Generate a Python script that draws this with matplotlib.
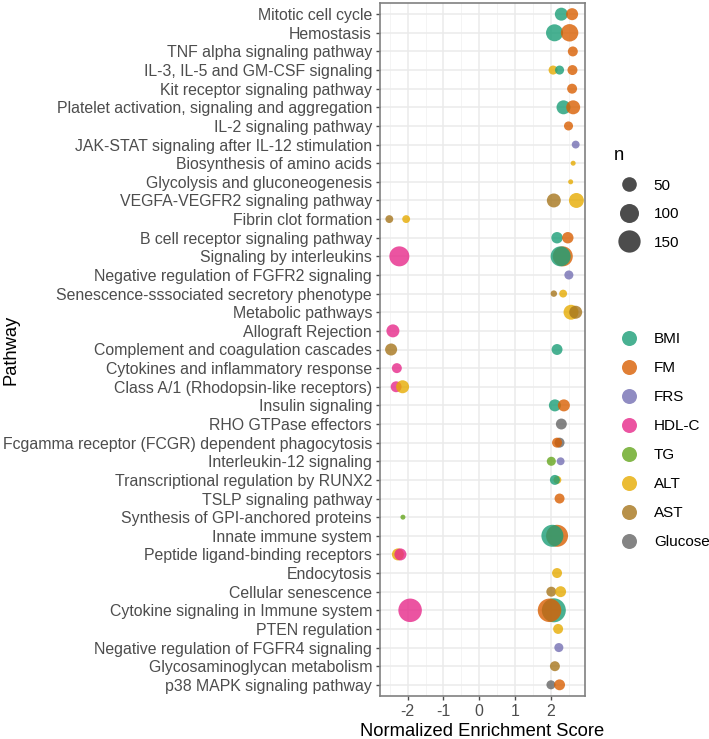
import numpy as np
import matplotlib
matplotlib.use("Agg")
import matplotlib.pyplot as plt
from matplotlib.lines import Line2D

plt.rcParams['font.family'] = ['Liberation Sans', 'DejaVu Sans']
plt.rcParams['axes.unicode_minus'] = False

pathways = [
    "Mitotic cell cycle",
    "Hemostasis",
    "TNF alpha signaling pathway",
    "IL-3, IL-5 and GM-CSF signaling",
    "Kit receptor signaling pathway",
    "Platelet activation, signaling and aggregation",
    "IL-2 signaling pathway",
    "JAK-STAT signaling after IL-12 stimulation",
    "Biosynthesis of amino acids",
    "Glycolysis and gluconeogenesis",
    "VEGFA-VEGFR2 signaling pathway",
    "Fibrin clot formation",
    "B cell receptor signaling pathway",
    "Signaling by interleukins",
    "Negative regulation of FGFR2 signaling",
    "Senescence-sssociated secretory phenotype",
    "Metabolic pathways",
    "Allograft Rejection",
    "Complement and coagulation cascades",
    "Cytokines and inflammatory response",
    "Class A/1 (Rhodopsin-like receptors)",
    "Insulin signaling",
    "RHO GTPase effectors",
    "Fcgamma receptor (FCGR) dependent phagocytosis",
    "Interleukin-12 signaling",
    "Transcriptional regulation by RUNX2",
    "TSLP signaling pathway",
    "Synthesis of GPI-anchored proteins",
    "Innate immune system",
    "Peptide ligand-binding receptors",
    "Endocytosis",
    "Cellular senescence",
    "Cytokine signaling in Immune system",
    "PTEN regulation",
    "Negative regulation of FGFR4 signaling",
    "Glycosaminoglycan metabolism",
    "p38 MAPK signaling pathway",
]

groups = ["BMI", "FM", "FRS", "HDL-C", "TG", "ALT", "AST", "Glucose"]
group_colors = ["#1B9E77", "#D95F02", "#7570B3", "#E7298A",
                "#66A61E", "#E6AB02", "#A6761D", "#666666"]

# one entry per point, in drawing order (later ones on top)
pt_path = [0, 0, 1, 1, 2, 3, 3, 3, 4, 5, 5, 6, 7, 8, 9, 10, 10, 11, 11,
           12, 12, 13, 13, 13, 14, 15, 15, 16, 16, 17, 18, 18, 19, 20, 20,
           21, 21, 22, 23, 23, 24, 24, 25, 25, 26, 27, 28, 28, 29, 29, 30,
           31, 31, 32, 32, 32, 33, 34, 35, 36, 36]
pt_group = ["BMI", "FM", "BMI", "FM", "FM", "ALT", "BMI", "FM", "FM", "BMI", "FM",
            "FM", "FRS", "ALT", "ALT", "AST", "ALT", "AST", "ALT",
            "BMI", "FM", "HDL-C", "FM", "BMI", "FRS", "AST", "ALT", "ALT", "AST",
            "HDL-C", "AST", "BMI", "HDL-C", "HDL-C", "ALT",
            "BMI", "FM", "Glucose", "Glucose", "FM", "TG", "FRS", "ALT", "BMI",
            "FM", "TG", "FM", "BMI", "ALT", "HDL-C", "ALT",
            "AST", "ALT", "HDL-C", "BMI", "FM", "ALT", "FRS", "AST", "Glucose", "FM"]
pt_nes = [2.29, 2.59, 2.10, 2.52, 2.61, 2.06, 2.24, 2.60, 2.59, 2.35, 2.62,
          2.49, 2.69, 2.62, 2.55, 2.08, 2.71, -2.51, -2.04,
          2.17, 2.47, -2.23, 2.33, 2.27, 2.50, 2.08, 2.34, 2.56, 2.69,
          -2.41, -2.46, 2.17, -2.30, -2.32, -2.14,
          2.11, 2.36, 2.29, 2.24, 2.17, 2.01, 2.27, 2.18, 2.11,
          2.24, -2.13, 2.17, 2.04, -2.27, -2.20, 2.17,
          2.01, 2.27, -1.93, 2.08, 1.96, 2.20, 2.22, 2.11, 2.00, 2.24]
pt_n = [36, 29, 75, 80, 17, 13, 13, 17, 17, 44, 44,
        13, 9, 5, 5, 44, 53, 9, 9,
        25, 25, 114, 114, 114, 13, 6, 9, 53, 36,
        36, 29, 22, 17, 22, 36,
        29, 29, 22, 17, 17, 13, 9, 9, 17,
        17, 5, 145, 145, 29, 29, 17,
        17, 22, 171, 180, 171, 17, 13, 17, 13, 22]

size_breaks = [50, 100, 150]

NMIN, NMAX = 5, 180
DMIN, DMAX = 5.0, 24.0  # marker diameter range in pixels


def diam_pt(n):
    n = np.asarray(n, dtype=float)
    d = DMIN + (DMAX - DMIN) * np.sqrt(np.clip((n - NMIN) / (NMAX - NMIN), 0, None))
    return d * 0.72


col_of = dict(zip(groups, group_colors))
colors = [col_of[g] for g in pt_group]

fig = plt.figure(figsize=(7.09, 7.39), dpi=100)
ax = fig.add_axes([380 / 709, 1 - 696 / 739, 205 / 709, 693 / 739])

ax.scatter(pt_nes, pt_path, s=diam_pt(pt_n) ** 2, c=colors, alpha=0.8,
           linewidths=0, zorder=3)

ax.set_xlim(-2.77, 2.95)
ax.set_ylim(len(pathways) - 0.4, -0.6)
ax.set_yticks(range(len(pathways)))
ax.set_yticklabels(pathways)
ax.set_xticks([-2, -1, 0, 1, 2])
ax.set_xticks([-2.5, -1.5, -0.5, 0.5, 1.5, 2.5], minor=True)

ax.grid(True, which='major', color='#EBEBEB', linewidth=1.1, zorder=0)
ax.grid(True, which='minor', axis='x', color='#F2F2F2', linewidth=0.6, zorder=0)
ax.set_axisbelow(True)
for sp in ax.spines.values():
    sp.set_color('#808080')
    sp.set_linewidth(1.2)
ax.tick_params(which='major', length=3.2, width=1.0, color='#4D4D4D',
               labelcolor='#4D4D4D', labelsize=11.4, pad=2.5)
ax.tick_params(which='minor', length=0)

ax.set_xlabel("Normalized Enrichment Score", fontsize=13.2, color='black', labelpad=3)
ax.set_ylabel("Pathway", fontsize=13.2, color='black')
ax.yaxis.set_label_coords((19 - 380) / 205, 0.5)

# size legend
size_handles = [Line2D([], [], linestyle='none', marker='o', color='black', alpha=0.7,
                       markeredgewidth=0, markersize=float(diam_pt(b)))
                for b in size_breaks]
leg1 = fig.legend(size_handles, [str(b) for b in size_breaks], title="n",
                  loc='upper left', bbox_to_anchor=(608 / 709, 1 - 141 / 739),
                  frameon=False, fontsize=11, title_fontsize=13.2, labelspacing=0.95,
                  handletextpad=0.6, borderaxespad=0, alignment='left')

# colour legend
col_handles = [Line2D([], [], linestyle='none', marker='o', color=c, alpha=0.8,
                      markeredgewidth=0, markersize=15 * 0.72)
               for c in group_colors]
leg2 = fig.legend(col_handles, groups, loc='upper left',
                  bbox_to_anchor=(608 / 709, 1 - 326 / 739),
                  frameon=False, fontsize=11, labelspacing=0.98,
                  handletextpad=0.6, borderaxespad=0)

fig.savefig("out.png", dpi=100)
